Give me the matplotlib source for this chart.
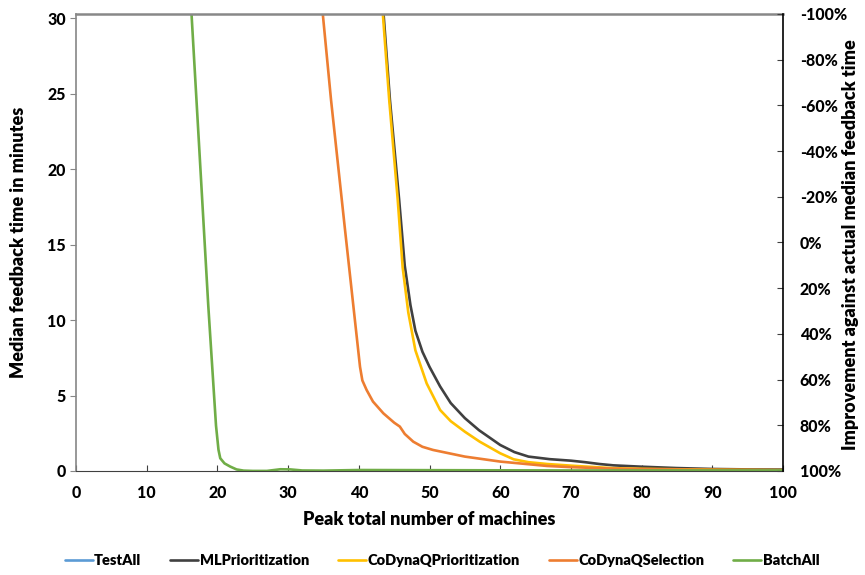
import matplotlib
matplotlib.use('Agg')
import matplotlib.pyplot as plt
from matplotlib.ticker import FuncFormatter

plt.rcParams['font.family'] = ['Lato', 'DejaVu Sans']
plt.rcParams['font.weight'] = 800
plt.rcParams['axes.labelweight'] = 800

series = ['TestAll', 'MLPrioritization', 'CoDynaQPrioritization', 'CoDynaQSelection', 'BatchAll']
colors = ['#5B9BD5', '#404040', '#FFC000', '#ED7D31', '#70AD47']

# median feedback time (minutes) by peak number of machines
testall_x = []
testall_y = []

ml_x = [43.2, 44.4, 45.7, 46.5, 47.3, 48, 49, 50, 51.5, 53, 55, 57, 60, 62, 64, 67,
        70, 72, 74, 76, 80, 85, 90, 95, 100]
ml_y = [32.2, 24.6, 18.0, 13.6, 11.0, 9.3, 7.9, 6.9, 5.6, 4.5, 3.5, 2.7, 1.72, 1.25,
        0.95, 0.78, 0.68, 0.58, 0.46, 0.37, 0.28, 0.19, 0.13, 0.10, 0.09]

cdq_prio_x = [43.1, 44.3, 45.5, 46.2, 47.0, 48, 49.6, 51.5, 53, 55, 57.1, 60, 61.9, 64,
              66.6, 70, 76, 80, 90, 100]
cdq_prio_y = [32.2, 24.6, 18.0, 13.5, 10.5, 8.0, 5.8, 4.04, 3.3, 2.6, 1.94, 1.17, 0.77,
              0.58, 0.46, 0.35, 0.18, 0.14, 0.08, 0.05]

cdq_sel_x = [34.8, 36.07, 38, 40.17, 40.5, 41.1, 42, 43.47, 45, 45.8, 46.5, 47.7, 49,
             50.5, 55, 60, 66.6, 70, 76, 80, 90, 100]
cdq_sel_y = [30.8, 24.6, 16.2, 6.9, 6.0, 5.37, 4.6, 3.82, 3.2, 2.94, 2.45, 1.94, 1.6,
             1.39, 0.95, 0.62, 0.33, 0.25, 0.15, 0.12, 0.07, 0.05]

batch_x = [16.2, 17.44, 18.7, 19.8, 20.15, 20.4, 21, 21.8, 22.7, 23.7, 25, 27, 28.9,
           30.3, 32, 35, 40, 50, 60, 70, 80, 90, 100]
batch_y = [31.4, 21.3, 11.0, 3.0, 1.4, 0.84, 0.5, 0.29, 0.1, 0.02, 0.0, 0.0, 0.11,
           0.10, 0.03, 0.02, 0.06, 0.05, 0.04, 0.03, 0.03, 0.03, 0.03]

xs = [testall_x, ml_x, cdq_prio_x, cdq_sel_x, batch_x]
ys = [testall_y, ml_y, cdq_prio_y, cdq_sel_y, batch_y]

fig = plt.figure(figsize=(8.65, 5.75), dpi=100)
ax = fig.add_axes([0.0879, 0.181, 0.8173, 0.7947])

for name, c, x, y in zip(series, colors, xs, ys):
    ax.plot(x, y, color=c, lw=1.9, label=name, solid_capstyle='round')

ax.set_xlim(0, 100)
ax.set_ylim(0, 30.3)
ax.set_xticks(range(0, 101, 10))
ax.set_yticks(range(0, 31, 5))
ax.tick_params(axis='x', direction='in', length=4, color='#404040', labelsize=11.5, pad=10)
ax.tick_params(axis='y', direction='out', length=4, color='#868686', labelsize=11.5)
ax.spines['left'].set_color('#868686')
ax.spines['left'].set_linewidth(1.2)
ax.spines['top'].set_color('#888888')
ax.spines['top'].set_linewidth(1.8)
ax.spines['bottom'].set_color('#404040')
ax.spines['right'].set_visible(False)

ax.set_xlabel('Peak total number of machines', fontsize=13, labelpad=7)
ax.set_ylabel('Median feedback time in minutes', fontsize=13)
ax.yaxis.set_label_coords(-0.069, 0.5)

ax2 = ax.twinx()
ax2.set_ylim(100, -100)
ax2.set_yticks(range(-100, 101, 20))
ax2.yaxis.set_major_formatter(FuncFormatter(lambda v, p: '%d%%' % v))
ax2.tick_params(axis='y', direction='in', length=4, color='#404040', labelsize=11.5, pad=12)
ax2.spines['right'].set_color('black')
ax2.spines['right'].set_linewidth(1.2)
ax2.spines['left'].set_visible(False)
ax2.spines['top'].set_visible(False)
ax2.spines['bottom'].set_visible(False)
ax2.set_ylabel('Improvement against actual median feedback time', fontsize=13)
ax2.yaxis.set_label_coords(1.083, 0.495)

plt.setp(ax.get_xticklabels() + ax.get_yticklabels() + ax2.get_yticklabels(),
         fontweight=900)

fig.legend(*ax.get_legend_handles_labels(), loc='center', bbox_to_anchor=(0.511, 0.025),
           ncol=5, frameon=False, prop={'size': 10.5, 'weight': 800},
           handlelength=1.9, handletextpad=0.1, columnspacing=2.0)

fig.savefig('out.png', dpi=100)
